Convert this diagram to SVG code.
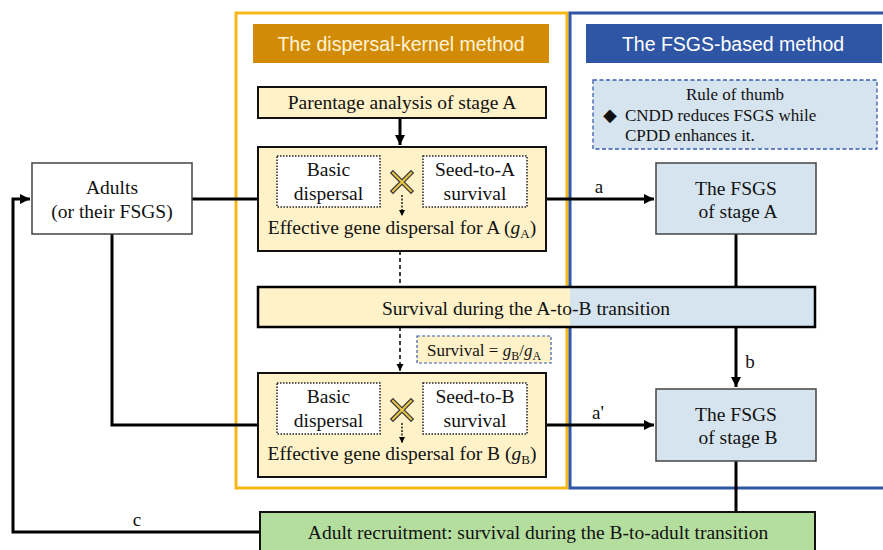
<svg xmlns="http://www.w3.org/2000/svg" width="883" height="550" viewBox="0 0 883 550">
<style>
.t{font-family:"Liberation Serif","Times New Roman",serif;font-size:19.5px;fill:#111;text-anchor:middle}
.s{font-size:17px}
.l{font-size:19px}
.h{font-family:"Liberation Sans",Arial,sans-serif;font-size:19.5px;text-anchor:middle}
.cream{fill:#FFF2C8}
.blue{fill:#D6E4EF}
.main{stroke:#111;stroke-width:2}
.thin{stroke:#444;stroke-width:1.5}
.dot{fill:#fff;stroke:#222;stroke-width:1.5;stroke-dasharray:1.5,1.5}
.conn{fill:none;stroke:#000;stroke-width:3}
.dash{fill:none;stroke:#000;stroke-width:1.5;stroke-dasharray:4,3}
</style>
<defs>
<marker id="ah" viewBox="0 0 10 10" refX="10" refY="5" markerWidth="3.5" markerHeight="3.5" orient="auto" markerUnits="strokeWidth"><path d="M0,0L10,5L0,10z" fill="#000"/></marker>
<marker id="ahs" viewBox="0 0 10 10" refX="10" refY="5" markerWidth="5" markerHeight="5" orient="auto" markerUnits="strokeWidth"><path d="M0,0L10,5L0,10z" fill="#000"/></marker>
<g id="cross"><path d="M-9,-9L9,9M9,-9L-9,9" stroke="#3a3a3a" stroke-width="4.5" stroke-linecap="square"/><path d="M-9,-9L9,9M9,-9L-9,9" stroke="#E8C547" stroke-width="2" stroke-linecap="square"/></g>
</defs>
<rect width="883" height="550" fill="#fff"/>

<g id="frames">
<rect x="236" y="13" width="331" height="475" fill="none" stroke="#F7B718" stroke-width="3"/>
<path d="M885,13H570V488H885" fill="none" stroke="#2F55A5" stroke-width="3"/>
</g>

<g id="header-kernel">
<rect x="253" y="24" width="296" height="39" fill="#D28B06"/>
<text class="h" x="401" y="51" fill="#FFF4D6">The dispersal-kernel method</text>
</g>
<g id="header-fsgs">
<rect x="586" y="24" width="296" height="39" fill="#2F55A5"/>
<text class="h" x="733" y="51" fill="#fff">The FSGS-based method</text>
</g>

<g id="rule">
<rect x="593" y="80" width="284" height="69" fill="#D6E4EF" stroke="#3A5BAE" stroke-width="1.3" stroke-dasharray="4,2.5"/>
<text class="t s" x="735" y="100">Rule of thumb</text>
<text class="t" x="610" y="121" style="font-family:'DejaVu Sans',sans-serif;font-size:18px">◆</text>
<text class="t s" x="625" y="121" style="text-anchor:start">CNDD reduces FSGS while</text>
<text class="t s" x="625" y="141" style="text-anchor:start">CPDD enhances it.</text>
</g>

<g id="connectors">
<path class="conn" d="M400,118V145" marker-end="url(#ah)"/>
<path class="conn" d="M192,199H258"/>
<path class="conn" d="M546,199H654" marker-end="url(#ah)"/>
<path class="conn" d="M112,234V425H258"/>
<path class="conn" d="M546,425H654" marker-end="url(#ah)"/>
<path class="conn" d="M736,234V287"/>
<path class="conn" d="M736,327V387" marker-end="url(#ah)"/>
<path class="conn" d="M736,461V512"/>
<path class="conn" d="M260,532H13V199H30" marker-end="url(#ah)"/>
<path class="dash" d="M400,251V287"/>
<path class="dash" d="M400,327V371" marker-end="url(#ahs)"/>
</g>

<g id="labels">
<text class="t l" x="599" y="193">a</text>
<text class="t l" x="750" y="368">b</text>
<text class="t l" x="598" y="419">a'</text>
<text class="t l" x="137" y="526">c</text>
</g>

<g id="parentage">
<rect class="cream main" x="258" y="87" width="288" height="31"/>
<text class="t" x="402" y="109">Parentage analysis of stage A</text>
</g>

<g id="box-a">
<rect class="cream main" x="258" y="147" width="288" height="104"/>
<rect class="dot" x="277" y="156" width="103" height="51"/>
<text class="t" x="328.5" y="176">Basic</text>
<text class="t" x="328.5" y="200">dispersal</text>
<rect class="dot" x="423" y="156" width="104" height="51"/>
<text class="t" x="475" y="176">Seed-to-A</text>
<text class="t" x="475" y="200">survival</text>
<use href="#cross" x="402" y="182"/>
<path d="M402,195V216" fill="none" stroke="#000" stroke-width="1.3" stroke-dasharray="2,1.5" marker-end="url(#ahs)"/>
<text class="t" x="402" y="234">Effective gene dispersal for A (<tspan font-style="italic">g</tspan><tspan font-size="13" dy="4">A</tspan><tspan dy="-4">)</tspan></text>
</g>

<g id="survival-ab">
<rect x="258" y="287" width="312" height="40" fill="#FFF2C8"/>
<rect x="570" y="287" width="245" height="40" fill="#D6E4EF"/>
<rect x="258" y="287" width="557" height="40" fill="none" stroke="#000" stroke-width="2.5"/>
<text class="t" x="526" y="315">Survival during the A-to-B transition</text>
</g>

<g id="survival-ratio">
<rect x="417" y="336" width="134" height="27" fill="#FFF2C8" stroke="#3A5BAE" stroke-width="1.2" stroke-dasharray="3,2"/>
<text class="t s" x="484" y="356">Survival = <tspan font-style="italic">g</tspan><tspan font-size="12" dy="4">B</tspan><tspan dy="-4">/</tspan><tspan font-style="italic">g</tspan><tspan font-size="12" dy="4">A</tspan></text>
</g>

<g id="box-b">
<rect class="cream main" x="258" y="373" width="288" height="104"/>
<rect class="dot" x="277" y="383" width="103" height="51"/>
<text class="t" x="328.5" y="403">Basic</text>
<text class="t" x="328.5" y="427">dispersal</text>
<rect class="dot" x="423" y="383" width="104" height="51"/>
<text class="t" x="475" y="403">Seed-to-B</text>
<text class="t" x="475" y="427">survival</text>
<use href="#cross" x="402" y="410"/>
<path d="M402,423V443" fill="none" stroke="#000" stroke-width="1.3" stroke-dasharray="2,1.5" marker-end="url(#ahs)"/>
<text class="t" x="402" y="460">Effective gene dispersal for B (<tspan font-style="italic">g</tspan><tspan font-size="13" dy="4">B</tspan><tspan dy="-4">)</tspan></text>
</g>

<g id="adults">
<rect x="32" y="163" width="160" height="71" fill="#fff" class="thin"/>
<text class="t" x="112" y="194">Adults</text>
<text class="t" x="112" y="218">(or their FSGS)</text>
</g>

<g id="fsgs-a">
<rect class="blue thin" x="656" y="163" width="160" height="71"/>
<text class="t" x="736" y="195">The FSGS</text>
<text class="t" x="738" y="218">of stage A</text>
</g>

<g id="fsgs-b">
<rect class="blue thin" x="656" y="389" width="160" height="72"/>
<text class="t" x="736" y="421">The FSGS</text>
<text class="t" x="738" y="444">of stage B</text>
</g>

<g id="recruitment">
<rect x="260" y="512" width="555" height="45" fill="#B4DE9E" stroke="#111" stroke-width="2"/>
<text class="t" x="538" y="539">Adult recruitment: survival during the B-to-adult transition</text>
</g>
</svg>
